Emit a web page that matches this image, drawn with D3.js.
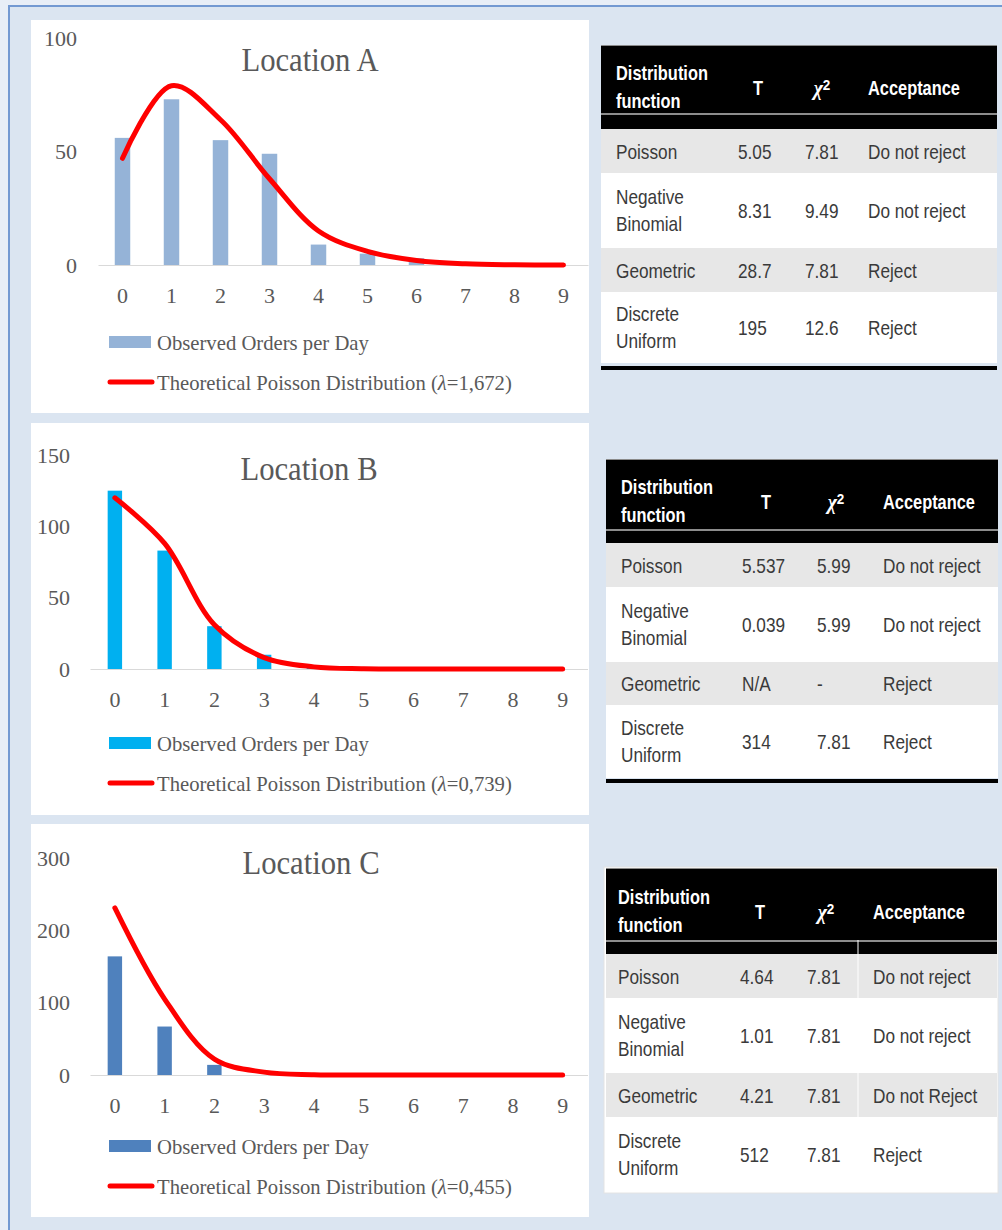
<!DOCTYPE html>
<html><head><meta charset="utf-8">
<script src="https://cdn.jsdelivr.net/npm/d3@7"></script>
<style>
html,body{margin:0;padding:0;background:#e8eef7;}
svg{display:block;}
</style></head><body>
<svg id="c" width="1002" height="1230"></svg>
<script>
// ---------------- DATA ----------------
const categories = [0,1,2,3,4,5,6,7,8,9];
const observedA = [56,73,55,49,9,5,3,0,0,0];
const poissonA  = [47,79,64,38,15,6,2,0.5,0.1,0];
const observedB = [125,83,30,10,1,0,0,0,0,0];
const poissonB  = [120,88,31,8,1.5,0.2,0,0,0,0];
const observedC = [164,67,14,0,0,0,0,0,0,0];
const poissonC  = [231,105,22,4,0.5,0,0,0,0,0];
const yTicksA = [0,50,100];
const yTicksB = [0,50,100,150];
const yTicksC = [0,100,200,300];
const titles = ["Location A","Location B","Location C"];
const lambdas = ["1,672","0,739","0,455"];
const barLegend = "Observed Orders per Day";
const lineLegend = "Theoretical Poisson Distribution";

const headerDist = ["Distribution","function"];
const headerT = "T";
const headerChi = ["χ","2"];
const headerAcc = "Acceptance";
const distributions = [["Poisson"],["Negative","Binomial"],["Geometric"],["Discrete","Uniform"]];
const tStatA = ["5.05","8.31","28.7","195"];
const chiA   = ["7.81","9.49","7.81","12.6"];
const accA   = ["Do not reject","Do not reject","Reject","Reject"];
const tStatB = ["5.537","0.039","N/A","314"];
const chiB   = ["5.99","5.99","-","7.81"];
const accB   = ["Do not reject","Do not reject","Reject","Reject"];
const tStatC = ["4.64","1.01","4.21","512"];
const chiC   = ["7.81","7.81","7.81","7.81"];
const accC   = ["Do not reject","Do not reject","Do not Reject","Reject"];

// ---------------- DRAW ----------------
const svg = d3.select("#c");
const SERIF = "'Liberation Serif', 'Times New Roman', serif";
const SANS = "'Liberation Sans', Arial, sans-serif";
const TXT = "#595959";

function addText(parent, str, x, y, o) {
  return parent.append("text")
    .attr("transform", `translate(${x},${y}) scale(${o.sx || 1},1)`)
    .attr("font-family", o.family || SANS)
    .attr("font-size", o.size)
    .attr("font-weight", o.weight || "normal")
    .attr("fill", o.fill || "#333")
    .attr("text-anchor", o.anchor || "start")
    .text(str);
}

// outer frame
svg.append("rect").attr("x", 9).attr("y", 6).attr("width", 1100).attr("height", 1300)
  .attr("fill", "#dbe5f1").attr("stroke", "#7399d2").attr("stroke-width", 2);

const charts = [
  {obs: observedA, fit: poissonA, ticks: yTicksA, title: titles[0], lam: lambdas[0],
   panel: [31, 20, 589, 413], xr: [98, 588], yr: [265, 38], ymax: 100, pad: 21,
   titleY: 71, titleX: 310, leg: [342, 382], barPad: 0.684, color: "#95b3d7"},
  {obs: observedB, fit: poissonB, ticks: yTicksB, title: titles[1], lam: lambdas[1],
   panel: [31, 423, 589, 815], xr: [90, 587.5], yr: [669, 455], ymax: 150, pad: 20,
   titleY: 480, titleX: 309, leg: [743, 783], barPad: 0.71, color: "#00b0f0"},
  {obs: observedC, fit: poissonC, ticks: yTicksC, title: titles[2], lam: lambdas[2],
   panel: [31, 824, 589, 1217], xr: [90, 587.5], yr: [1075, 858], ymax: 300, pad: 20,
   titleY: 874, titleX: 311, leg: [1146, 1186], barPad: 0.71, color: "#4f81bd"}
];

charts.forEach(c => {
  const g = svg.append("g");
  g.append("rect").attr("x", c.panel[0]).attr("y", c.panel[1])
    .attr("width", c.panel[2] - c.panel[0]).attr("height", c.panel[3] - c.panel[1])
    .attr("fill", "#fff");

  const x = d3.scaleBand().domain(categories).range(c.xr).padding(0);
  const xb = d3.scaleBand().domain(categories).range(c.xr)
    .paddingInner(c.barPad).paddingOuter(c.barPad / 2);
  const y = d3.scaleLinear().domain([0, c.ymax]).range(c.yr);

  // x axis (baseline)
  const gx = g.append("g").attr("transform", `translate(0,${c.yr[0]})`)
    .call(d3.axisBottom(x).tickSize(0).tickSizeOuter(0));
  gx.select(".domain").attr("stroke", "#d9d9d9").attr("stroke-width", 1.2);
  gx.selectAll("text").attr("y", 30).attr("dy", "0.35em")
    .attr("font-family", SERIF).attr("font-size", 22).attr("fill", TXT);

  // y axis
  const gy = g.append("g").attr("transform", `translate(${c.xr[0]},0)`)
    .call(d3.axisLeft(y).tickValues(c.ticks).tickSize(0).tickPadding(c.pad));
  gy.select(".domain").remove();
  gy.selectAll("text").attr("font-family", SERIF).attr("font-size", 22).attr("fill", TXT);

  // bars
  g.append("g").selectAll("rect").data(categories).join("rect")
    .attr("x", d => xb(d)).attr("width", xb.bandwidth())
    .attr("y", (d, i) => y(c.obs[i])).attr("height", (d, i) => y(0) - y(c.obs[i]))
    .attr("fill", c.color);

  // fitted line
  const line = d3.line()
    .x((d, i) => x(categories[i]) + x.bandwidth() / 2)
    .y(d => y(d))
    .curve(d3.curveCatmullRom);
  g.append("path").datum(c.fit).attr("d", line)
    .attr("fill", "none").attr("stroke", "#ff0000").attr("stroke-width", 5)
    .attr("stroke-linecap", "round").attr("stroke-linejoin", "round");

  // title
  addText(g, c.title, c.titleX, c.titleY, {family: SERIF, size: 33, sx: 0.93, fill: TXT, anchor: "middle"});

  // legend
  g.append("rect").attr("x", 109).attr("y", c.leg[0] - 6).attr("width", 42).attr("height", 12).attr("fill", c.color);
  addText(g, barLegend, 157, c.leg[0] + 7.5, {family: SERIF, size: 22, sx: 0.94, fill: TXT});
  g.append("line").attr("x1", 110).attr("x2", 152).attr("y1", c.leg[1]).attr("y2", c.leg[1])
    .attr("stroke", "#ff0000").attr("stroke-width", 5).attr("stroke-linecap", "round");
  const lt = addText(g, lineLegend + " (", 157, c.leg[1] + 7.5, {family: SERIF, size: 22, sx: 0.94, fill: TXT});
  lt.append("tspan").attr("font-style", "italic").text("λ");
  lt.append("tspan").text("=" + c.lam + ")");
});

// ---------------- TABLES ----------------
const tables = [
  {t: tStatA, chi: chiA, acc: accA, x0: 601, x1: 997, top: 46, grey: 113, hb: 129,
   rows: [129, 173, 248, 292, 363], bottom: 366, cols: [616, 738, 805, 868], tC: 758, chiC: 822},
  {t: tStatB, chi: chiB, acc: accB, x0: 606, x1: 998, top: 460, grey: 529, hb: 543,
   rows: [543, 587, 662, 705, 778], bottom: 779, cols: [621, 742, 817, 883], tC: 766, chiC: 836},
  {t: tStatC, chi: chiC, acc: accC, x0: 606, x1: 997, top: 869, grey: 940, hb: 954,
   rows: [954, 998, 1073, 1117, 1192], bottom: null, cols: [618, 740, 807, 873], tC: 760, chiC: 826, backing: true, sep: 858}
];

tables.forEach(tb => {
  const g = svg.append("g");
  const W = tb.x1 - tb.x0;
  if (tb.backing) {
    g.append("rect").attr("x", tb.x0 - 2).attr("y", tb.top - 2).attr("width", W + 3)
      .attr("height", tb.rows[4] - tb.top + 3).attr("fill", "#fff").attr("stroke", "#e4e4e4");
  }
  g.append("rect").attr("x", tb.x0).attr("y", tb.top).attr("width", W).attr("height", tb.hb - tb.top).attr("fill", "#000");
  g.append("rect").attr("x", tb.x0).attr("y", tb.top - 1).attr("width", W).attr("height", 1).attr("fill", "#8a8a8a");
  g.append("rect").attr("x", tb.x0).attr("y", tb.grey).attr("width", W).attr("height", 2).attr("fill", "#8c8c8c");

  const hm = (tb.top + tb.hb) / 2;
  const hopt = {size: 20, weight: "bold", sx: 0.82, fill: "#fff"};
  addText(g, headerDist[0], tb.cols[0], hm - 7.5, hopt);
  addText(g, headerDist[1], tb.cols[0], hm + 20, hopt);
  addText(g, headerT, tb.tC, hm + 7.5, Object.assign({}, hopt, {anchor: "middle"}));
  const ch = addText(g, "", tb.chiC, hm + 7.5, {size: 22, weight: "bold", sx: 0.9, fill: "#fff", anchor: "middle", family: SERIF});
  ch.append("tspan").attr("font-style", "italic").text(headerChi[0]);
  ch.append("tspan").attr("font-family", SANS).attr("font-size", 15).attr("dy", -5).text(headerChi[1]);
  addText(g, headerAcc, tb.cols[3], hm + 7.5, hopt);

  const ropt = {size: 21, sx: 0.82, fill: "#3a3a3a"};
  distributions.forEach((names, i) => {
    const r0 = tb.rows[i], r1 = tb.rows[i + 1], m = (r0 + r1) / 2;
    g.append("rect").attr("x", tb.x0).attr("y", r0).attr("width", W).attr("height", r1 - r0)
      .attr("fill", i % 2 === 0 ? "#e7e7e7" : "#ffffff");
    if (names.length === 2) {
      addText(g, names[0], tb.cols[0], m - 6.5, ropt);
      addText(g, names[1], tb.cols[0], m + 20.5, ropt);
    } else {
      addText(g, names[0], tb.cols[0], m + 7.5, ropt);
    }
    addText(g, tb.t[i], tb.cols[1], m + 7.5, ropt);
    addText(g, tb.chi[i], tb.cols[2], m + 7.5, ropt);
    addText(g, tb.acc[i], tb.cols[3], m + 7.5, ropt);
  });
  if (tb.sep) {
    g.append("line").attr("x1", tb.sep).attr("x2", tb.sep).attr("y1", tb.grey).attr("y2", tb.rows[4])
      .attr("stroke", "#fff").attr("stroke-width", 1);
  }
  if (tb.bottom) {
    g.append("rect").attr("x", tb.x0).attr("y", tb.bottom).attr("width", W).attr("height", 4).attr("fill", "#000");
  }
});
</script>
</body></html>
